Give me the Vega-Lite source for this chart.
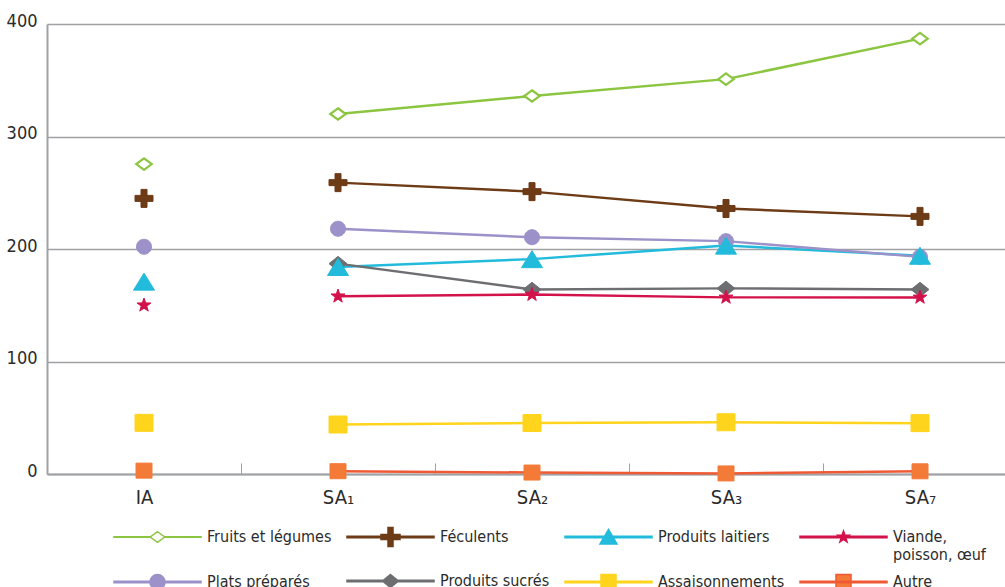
{
  "$schema": "https://vega.github.io/schema/vega-lite/v6.json",
  "autosize": {"type": "none"},
  "width": 958,
  "height": 450,
  "padding": {"left": 47, "top": 24, "right": 0, "bottom": 113},
  "background": "white",
  "config": {
    "view": {"stroke": null},
    "font": "DejaVu Sans Condensed, sans-serif",
    "legend": {
      "orient": "none",
      "direction": "horizontal",
      "columns": 4,
      "gridAlign": "none",
      "columnPadding": 12,
      "rowPadding": 8,
      "symbolSize": 100,
      "symbolStrokeWidth": 1.5,
      "symbolOpacity": 1,
      "symbolOffset": 37.5,
      "labelOffset": 41.5,
      "labelLimit": 0,
      "labelFontSize": 16,
      "labelColor": "#2b2b2b",
      "labelBaseline": "middle",
      "labelFont": "DejaVu Sans Condensed, sans-serif"
    }
  },
  "data": {
    "values": [
      {"x": "IA", "series": "Fruits et légumes", "v": 275.5},
      {"x": "SA₁", "series": "Fruits et légumes", "v": 320},
      {"x": "SA₂", "series": "Fruits et légumes", "v": 336},
      {"x": "SA₃", "series": "Fruits et légumes", "v": 351},
      {"x": "SA₇", "series": "Fruits et légumes", "v": 387},
      {"x": "IA", "series": "Féculents", "v": 245},
      {"x": "SA₁", "series": "Féculents", "v": 259},
      {"x": "SA₂", "series": "Féculents", "v": 251},
      {"x": "SA₃", "series": "Féculents", "v": 236},
      {"x": "SA₇", "series": "Féculents", "v": 229},
      {"x": "IA", "series": "Produits laitiers", "v": 171},
      {"x": "SA₁", "series": "Produits laitiers", "v": 184},
      {"x": "SA₂", "series": "Produits laitiers", "v": 191},
      {"x": "SA₃", "series": "Produits laitiers", "v": 203},
      {"x": "SA₇", "series": "Produits laitiers", "v": 194},
      {"x": "IA", "series": "Viande, poisson, œuf", "v": 150},
      {"x": "SA₁", "series": "Viande, poisson, œuf", "v": 158},
      {"x": "SA₂", "series": "Viande, poisson, œuf", "v": 159.5},
      {"x": "SA₃", "series": "Viande, poisson, œuf", "v": 157},
      {"x": "SA₇", "series": "Viande, poisson, œuf", "v": 157},
      {"x": "IA", "series": "Plats préparés", "v": 202},
      {"x": "SA₁", "series": "Plats préparés", "v": 218},
      {"x": "SA₂", "series": "Plats préparés", "v": 210.5},
      {"x": "SA₃", "series": "Plats préparés", "v": 207},
      {"x": "SA₇", "series": "Plats préparés", "v": 193},
      {"x": "SA₁", "series": "Produits sucrés", "v": 187},
      {"x": "SA₂", "series": "Produits sucrés", "v": 164},
      {"x": "SA₃", "series": "Produits sucrés", "v": 165},
      {"x": "SA₇", "series": "Produits sucrés", "v": 164},
      {"x": "IA", "series": "Assaisonnements", "v": 45.5},
      {"x": "SA₁", "series": "Assaisonnements", "v": 44},
      {"x": "SA₂", "series": "Assaisonnements", "v": 45.3},
      {"x": "SA₃", "series": "Assaisonnements", "v": 46},
      {"x": "SA₇", "series": "Assaisonnements", "v": 45.2},
      {"x": "IA", "series": "Autre", "v": 3},
      {"x": "SA₁", "series": "Autre", "v": 2.5},
      {"x": "SA₂", "series": "Autre", "v": 1.3},
      {"x": "SA₃", "series": "Autre", "v": 0.5},
      {"x": "SA₇", "series": "Autre", "v": 2.4}
    ]
  },
  "encoding": {
    "x": {
      "field": "x", "type": "ordinal",
      "sort": ["IA", "SA₁", "SA₂", "SA₃", "SA₇"],
      "scale": {"range": [0, 970], "paddingInner": 0, "paddingOuter": 0},
      "axis": {
        "title": null, "labelAngle": 0, "grid": false,
        "domainColor": "#a0a1a4", "domainWidth": 2,
        "tickBand": "extent", "tickSize": -11, "tickColor": "#a0a1a4", "tickWidth": 1,
        "labelFontSize": 20, "labelColor": "#2b2b2b", "labelPadding": 24,
        "labelFont": "DejaVu Sans Condensed, sans-serif"
      }
    },
    "y": {
      "field": "v", "type": "quantitative",
      "scale": {"domain": [0, 400], "nice": false, "zero": true},
      "axis": {
        "title": null, "values": [0, 100, 200, 300, 400],
        "grid": true, "gridColor": "#a0a1a4", "gridWidth": 1.5,
        "domainColor": "#a0a1a4", "domainWidth": 2, "ticks": false,
        "labelFontSize": 18, "labelColor": "#2b2b2b", "labelPadding": 10,
        "labelBaseline": "middle", "labelOffset": -3,
        "labelFont": "DejaVu Sans Condensed, sans-serif"
      }
    }
  },
  "layer": [
    {
      "transform": [{"filter": "datum.x !== 'IA'"}],
      "mark": {"type": "line", "strokeWidth": 2.5},
      "encoding": {
        "detail": {"field": "series"},
        "stroke": {
          "field": "series", "type": "nominal",
          "scale": {
            "domain": ["Fruits et légumes", "Féculents", "Produits laitiers", "Viande, poisson, œuf", "Plats préparés", "Produits sucrés", "Assaisonnements", "Autre"],
            "range": ["#8cc540", "#6e3b17", "#22bbdc", "#d3124c", "#9c91c8", "#6d6e71", "#ffd41c", "#ef5a35"]
          },
          "legend": {
            "title": null, "legendX": 65, "legendY": 505,
            "labelExpr": "datum.label === 'Viande, poisson, œuf' ? ['Viande,', 'poisson, œuf'] : datum.label"
          }
        }
      }
    },
    {
      "transform": [{"filter": "datum.series === 'Autre'"}],
      "mark": {"type": "point", "filled": true, "opacity": 1, "size": 100, "shape": "M-1.6,-1.5H1.6V1.5H-1.6Z", "fill": "#f47a38", "stroke": "#f47a38", "strokeWidth": 1}
    },
    {
      "transform": [{"filter": "datum.series === 'Assaisonnements'"}],
      "mark": {"type": "point", "filled": true, "opacity": 1, "size": 100, "shape": "M-1.8,-1.7H1.8V1.7H-1.8Z", "fill": "#ffd41c", "stroke": "#ffd41c", "strokeWidth": 1}
    },
    {
      "transform": [{"filter": "datum.series === 'Produits sucrés'"}],
      "mark": {"type": "point", "filled": true, "opacity": 1, "size": 100, "shape": "M0,-1.45L1.8,0L0,1.45L-1.8,0Z", "fill": "#6d6e71", "stroke": "#6d6e71", "strokeWidth": 1}
    },
    {
      "transform": [{"filter": "datum.series === 'Plats préparés'"}],
      "mark": {"type": "point", "filled": true, "opacity": 1, "size": 100, "shape": "M-1.5,0A1.5,1.5,0,1,1,1.5,0A1.5,1.5,0,1,1,-1.5,0Z", "fill": "#9c91c8", "stroke": "#9c91c8", "strokeWidth": 1}
    },
    {
      "transform": [{"filter": "datum.series === 'Viande, poisson, œuf'"}],
      "mark": {"type": "point", "filled": true, "opacity": 1, "size": 100, "shape": "M0,-1.45L0.341,-0.469L1.379,-0.448L0.552,0.179L0.852,1.173L0,0.58L-0.852,1.173L-0.552,0.179L-1.379,-0.448L-0.341,-0.469Z", "fill": "#d3124c", "stroke": "#d3124c", "strokeWidth": 1}
    },
    {
      "transform": [{"filter": "datum.series === 'Produits laitiers'"}],
      "mark": {"type": "point", "filled": true, "opacity": 1, "size": 100, "shape": "M0,-1.7L2.1,1.7L-2.1,1.7Z", "fill": "#22bbdc", "stroke": "#22bbdc", "strokeWidth": 1}
    },
    {
      "transform": [{"filter": "datum.series === 'Féculents'"}],
      "mark": {"type": "point", "filled": true, "opacity": 1, "size": 100, "shape": "M-0.6,-1.8H0.6V-0.6H1.8V0.6H0.6V1.8H-0.6V0.6H-1.8V-0.6H-0.6Z", "fill": "#6e3b17", "stroke": "#6e3b17", "strokeWidth": 1}
    },
    {
      "transform": [{"filter": "datum.series === 'Fruits et légumes'"}],
      "mark": {"type": "point", "filled": true, "opacity": 1, "size": 100, "shape": "M0,-1.15L1.55,0L0,1.15L-1.55,0Z", "fill": "#ffffff", "stroke": "#8cc540", "strokeWidth": 2.2}
    },
    {
      "mark": {"type": "point", "filled": true, "opacity": 0, "size": 100, "strokeWidth": 1.5},
      "encoding": {
        "shape": {
          "field": "series", "type": "nominal",
          "scale": {
            "domain": ["Fruits et légumes", "Féculents", "Produits laitiers", "Viande, poisson, œuf", "Plats préparés", "Produits sucrés", "Assaisonnements", "Autre"],
            "range": [
              "M-8.7,-0.07H-1.45V0.07H-8.7Z M1.45,-0.07H8.7V0.07H1.45Z M0,-1.05L1.45,0L0,1.05L-1.45,0Z",
              "M-8.7,-0.13H8.7V0.13H-8.7Z M-0.5,-1.9H0.5V-0.5H1.9V0.5H0.5V1.9H-0.5V0.5H-1.9V-0.5H-0.5Z",
              "M-8.7,-0.13H8.7V0.13H-8.7Z M0,-1.5L1.7,1.4L-1.7,1.4Z",
              "M-8.7,-0.13H8.7V0.13H-8.7Z M0,-1.2L0.282,-0.388L1.141,-0.371L0.457,0.148L0.705,0.971L0,0.48L-0.705,0.971L-0.457,0.148L-1.141,-0.371L-0.282,-0.388Z",
              "M-8.7,-0.13H8.7V0.13H-8.7Z M-1.5,0A1.5,1.5,0,1,1,1.5,0A1.5,1.5,0,1,1,-1.5,0Z",
              "M-8.7,-0.13H8.7V0.13H-8.7Z M0,-1.3L1.6,0L0,1.3L-1.6,0Z",
              "M-8.7,-0.13H8.7V0.13H-8.7Z M-1.5,-1.5H1.5V1.5H-1.5Z",
              "M-8.7,-0.13H8.7V0.13H-8.7Z M-1.5,-1.5H1.5V1.5H-1.5Z"
            ]
          },
          "legend": {
            "title": null, "legendX": 65, "legendY": 505,
            "labelExpr": "datum.label === 'Viande, poisson, œuf' ? ['Viande,', 'poisson, œuf'] : datum.label"
          }
        },
        "fill": {
          "field": "series", "type": "nominal",
          "scale": {
            "domain": ["Fruits et légumes", "Féculents", "Produits laitiers", "Viande, poisson, œuf", "Plats préparés", "Produits sucrés", "Assaisonnements", "Autre"],
            "range": ["#ffffff", "#6e3b17", "#22bbdc", "#d3124c", "#9c91c8", "#6d6e71", "#ffd41c", "#f47a38"]
          },
          "legend": {
            "title": null, "legendX": 65, "legendY": 505,
            "labelExpr": "datum.label === 'Viande, poisson, œuf' ? ['Viande,', 'poisson, œuf'] : datum.label"
          }
        },
        "stroke": {
          "field": "series", "type": "nominal",
          "scale": {
            "domain": ["Fruits et légumes", "Féculents", "Produits laitiers", "Viande, poisson, œuf", "Plats préparés", "Produits sucrés", "Assaisonnements", "Autre"],
            "range": ["#8cc540", "#6e3b17", "#22bbdc", "#d3124c", "#9c91c8", "#6d6e71", "#ffd41c", "#ef5a35"]
          },
          "legend": {
            "title": null, "legendX": 65, "legendY": 505,
            "labelExpr": "datum.label === 'Viande, poisson, œuf' ? ['Viande,', 'poisson, œuf'] : datum.label"
          }
        }
      }
    }
  ]
}
